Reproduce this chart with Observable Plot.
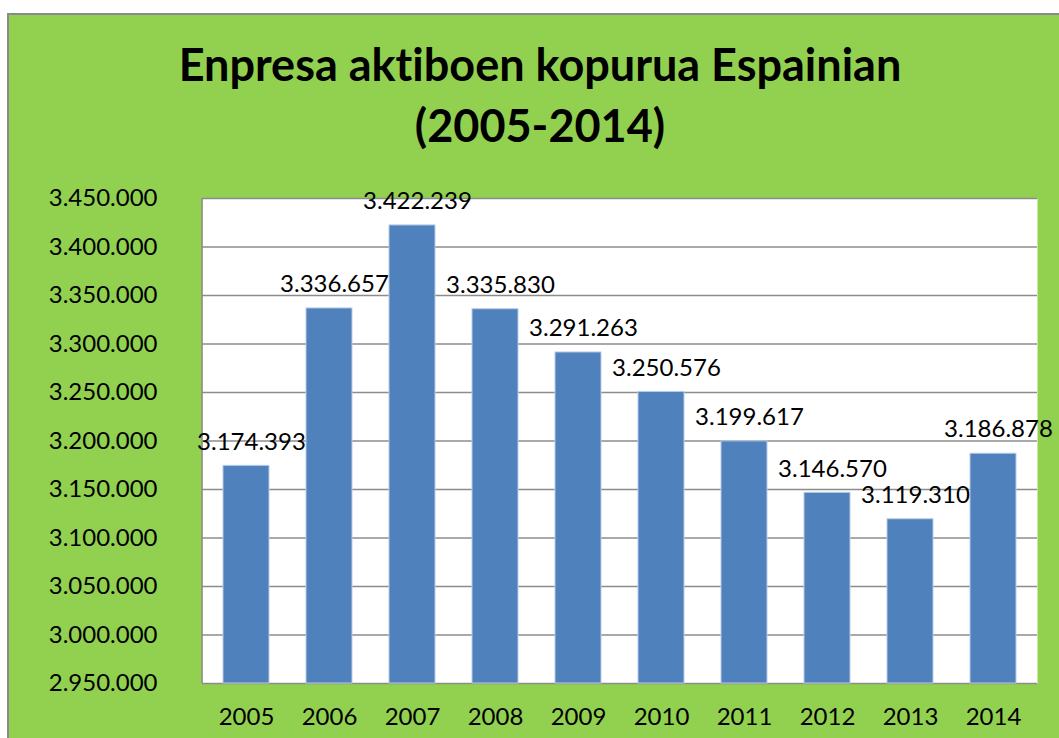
<!DOCTYPE html>
<html>
<head>
<meta charset="utf-8">
<script src="https://cdn.jsdelivr.net/npm/d3@7"></script>
<script src="https://cdn.jsdelivr.net/npm/@observablehq/plot@0.6"></script>
<style>
  html, body { margin: 0; padding: 0; background: white; overflow: hidden; width: 1059px; height: 738px; }
  #frame { position: absolute; left: 7px; top: 13px; width: 1100px; height: 800px; background: #92D050; border: 2px solid #8a8a8a; box-sizing: border-box; }
  #title { position: absolute; left: 0; top: 34px; width: 1080px; text-align: center; font-family: Lato, sans-serif; font-weight: bold; font-size: 45px; line-height: 61px; color: black; font-variant-ligatures: none; }
  #chart { position: absolute; left: 0; top: 170px; }
  #chart text { font-variant-ligatures: none; }
</style>
</head>
<body>
<div id="frame"></div>
<div id="title">Enpresa aktiboen kopurua Espainian<br>(2005-2014)</div>
<div id="chart"></div>
<script>
const years = ["2005", "2006", "2007", "2008", "2009", "2010", "2011", "2012", "2013", "2014"];
const values = [3174393, 3336657, 3422239, 3335830, 3291263, 3250576, 3199617, 3146570, 3119310, 3186878];
const yTicks = [2950000, 3000000, 3050000, 3100000, 3150000, 3200000, 3250000, 3300000, 3350000, 3400000, 3450000];

const data = years.map((year, i) => ({year, value: values[i]}));
const fmt = d => d3.format(",")(d).replace(/,/g, ".");

const leftLine = (index, scales, channels, dims) => {
  const g = d3.create("svg:line")
    .attr("x1", dims.marginLeft).attr("x2", dims.marginLeft)
    .attr("y1", dims.marginTop).attr("y2", dims.height - dims.marginBottom)
    .attr("stroke", "#8c8c8c").attr("stroke-width", 1.5);
  return g.node();
};

const chart = Plot.plot({
  width: 1059,
  height: 568,
  marginLeft: 202,
  marginRight: 22,
  marginTop: 28,
  marginBottom: 55,
  style: {background: "transparent", fontFamily: "Lato, sans-serif", fontSize: "24px", color: "black", overflow: "visible"},
  x: {domain: years, paddingInner: 0.44, paddingOuter: 0.22, label: null},
  y: {domain: [yTicks[0], yTicks[yTicks.length - 1]], label: null},
  marks: [
    Plot.frame({fill: "white", stroke: null}),
    Plot.ruleY(yTicks, {stroke: "#8c8c8c", strokeWidth: 1.5}),
    leftLine,
    Plot.barY(data, {x: "year", y1: yTicks[0], y2: "value", fill: "#4F81BD", stroke: "#b9cbe3", strokeWidth: 1}),
    Plot.text(data, {x: "year", y: "value", text: d => fmt(d.value), dy: -24, dx: 5, fill: "black", fontSize: 24}),
    Plot.axisY(yTicks, {tickSize: 0, tickPadding: 45, tickFormat: fmt, fill: "black", fontSize: 24, label: null}),
    Plot.axisX({tickSize: 0, tickPadding: 24, fill: "black", fontSize: 24, label: null})
  ]
});
document.getElementById("chart").appendChild(chart);
</script>
</body>
</html>
